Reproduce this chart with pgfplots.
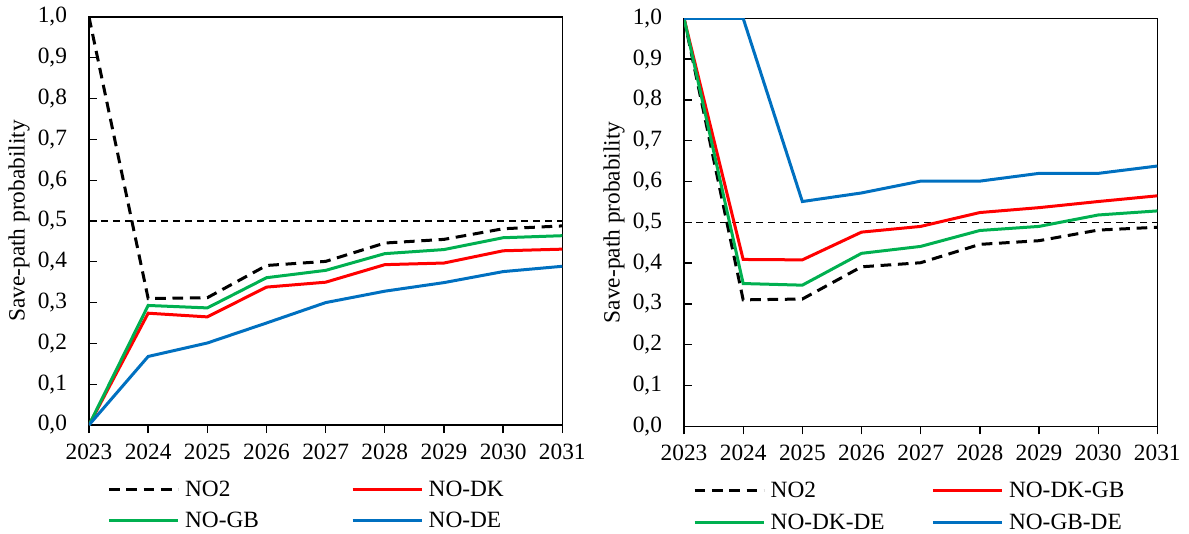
\documentclass[border=0pt]{standalone}
\usepackage{fontspec}
\setmainfont{Liberation Serif}
\usepackage{pgfplots}
\pgfplotsset{compat=1.18}
\definecolor{myred}{RGB}{255,0,0}
\definecolor{mygreen}{RGB}{0,176,80}
\definecolor{myblue}{RGB}{0,112,192}
\pgfplotsset{
  mystyle/.style={
    scale only axis, width=355pt, height=306pt,
    xmin=2023, xmax=2031, ymin=0, ymax=1,
    xtick={2023,2024,2025,2026,2027,2028,2029,2030,2031},
    ytick={0,0.1,0.2,0.3,0.4,0.5,0.6,0.7,0.8,0.9,1.0},
    /pgf/number format/assume math mode=true,
    x tick label style={/pgf/number format/1000 sep={}, yshift=-4.5pt},
    y tick label style={/pgf/number format/.cd, fixed, fixed zerofill, precision=1, use comma, /tikz/xshift=-13pt},
    xtick align=outside, ytick align=inside, tick pos=left, major tick length=6pt,
    axis line style={line width=1pt},
    every tick/.style={black, line width=1pt},
    ylabel={Save-path probability},
    ylabel style={at={(axis description cs:-0.148,0.5)}, anchor=center},
    font=\fontsize{17.5}{21}\selectfont,
    tick label style={font=\fontsize{17.5}{21}\selectfont},
    legend style={draw=none, fill=none, legend columns=2, anchor=north west,
      font=\fontsize{17.5}{21}\selectfont, row sep=6.5pt,
      /tikz/every odd column/.append style={column sep=2pt}},
    legend cell align=left,
    legend image code/.code={\draw[#1] (0pt,0pt) -- (52pt,0pt);},
  },
  no2/.style={black, line width=2.25pt, dash pattern=on 8pt off 5pt},
  ref/.style={black, line width=1.1pt, dash pattern=on 5pt off 4pt, forget plot},
  ser/.style={line width=2.25pt, #1},
}
\begin{document}
\begin{tikzpicture}
\useasboundingbox (-66.75pt,-81pt) rectangle (825pt,318.75pt);
\begin{axis}[mystyle, at={(0pt,0pt)}, anchor=south west,
  legend style={at={(axis description cs:0.03,-0.123)},
    /tikz/every even column/.append style={column sep=67pt}}]
\addplot[ref] coordinates {(2023,0.5)(2031,0.5)};
\addplot[no2] coordinates {(2023,1.0)(2024,0.31)(2025,0.312)(2026,0.391)(2027,0.401)(2028,0.446)(2029,0.455)(2030,0.481)(2031,0.488)};
\addlegendentry{NO2}
\addplot[ser=myred] coordinates {(2023,0)(2024,0.274)(2025,0.265)(2026,0.338)(2027,0.35)(2028,0.393)(2029,0.397)(2030,0.427)(2031,0.431)};
\addlegendentry{NO-DK}
\addplot[ser=mygreen] coordinates {(2023,0)(2024,0.293)(2025,0.287)(2026,0.361)(2027,0.379)(2028,0.42)(2029,0.43)(2030,0.459)(2031,0.464)};
\addlegendentry{NO-GB}
\addplot[ser=myblue] coordinates {(2023,0)(2024,0.168)(2025,0.201)(2026,0.25)(2027,0.30)(2028,0.328)(2029,0.349)(2030,0.376)(2031,0.389)};
\addlegendentry{NO-DE}
\end{axis}
\begin{axis}[mystyle, at={(446.25pt,-1pt)}, anchor=south west,
  legend style={at={(axis description cs:0.01,-0.123)},
    /tikz/every even column/.append style={column sep=33pt}}]
\addplot[ref] coordinates {(2023,0.5)(2031,0.5)};
\addplot[no2] coordinates {(2023,1.0)(2024,0.31)(2025,0.312)(2026,0.391)(2027,0.401)(2028,0.446)(2029,0.455)(2030,0.481)(2031,0.488)};
\addlegendentry{NO2}
\addplot[ser=myred] coordinates {(2023,1.0)(2024,0.409)(2025,0.408)(2026,0.476)(2027,0.49)(2028,0.524)(2029,0.536)(2030,0.551)(2031,0.565)};
\addlegendentry{NO-DK-GB}
\addplot[ser=mygreen] coordinates {(2023,1.0)(2024,0.35)(2025,0.346)(2026,0.424)(2027,0.441)(2028,0.48)(2029,0.49)(2030,0.518)(2031,0.528)};
\addlegendentry{NO-DK-DE}
\addplot[ser=myblue] coordinates {(2023,1.0)(2024,1.0)(2025,0.551)(2026,0.572)(2027,0.601)(2028,0.601)(2029,0.62)(2030,0.62)(2031,0.638)};
\addlegendentry{NO-GB-DE}
\end{axis}
\end{tikzpicture}
\end{document}
